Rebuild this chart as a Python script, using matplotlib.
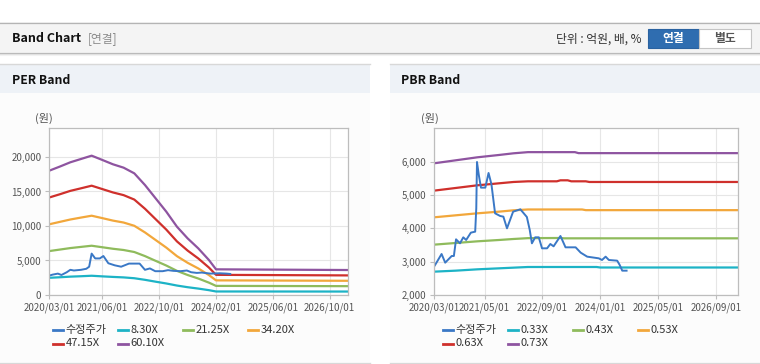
import matplotlib.pyplot as plt
from matplotlib.patches import Rectangle
from matplotlib.lines import Line2D
from matplotlib.ticker import FuncFormatter

plt.rcParams['font.family'] = ['Noto Sans CJK KR', 'DejaVu Sans']

W, H = 760, 364

# ---- PER band data (x = months since 2020/03) ----
per_band_months = [0, 3, 6, 9, 12, 15, 18, 21, 24, 27, 30, 33, 36, 39, 42, 45, 47, 84]
per_830 = [2490, 2570, 2660, 2720, 2790, 2700, 2620, 2550, 2430, 2200, 1930, 1670, 1370, 1130, 930, 700, 510, 500]
per_2125 = [6360, 6580, 6800, 6970, 7140, 6920, 6700, 6520, 6230, 5640, 4950, 4270, 3500, 2900, 2390, 1790, 1320, 1280]
per_3420 = [10240, 10590, 10940, 11220, 11490, 11140, 10780, 10500, 10030, 9070, 7970, 6870, 5630, 4670, 3850, 2890, 2120, 2060]
per_4715 = [14120, 14590, 15090, 15460, 15840, 15350, 14860, 14470, 13830, 12500, 10990, 9480, 7770, 6440, 5300, 3980, 2920, 2840]
per_6010 = [18000, 18600, 19230, 19710, 20190, 19570, 18940, 18450, 17630, 15940, 14010, 12080, 9900, 8210, 6760, 5070, 3720, 3620]

per_price_months = [0, 1, 2.5, 3.5, 5, 6, 7, 9, 10.5, 11.3, 12, 13, 14.3, 15.3, 16.7, 18.5, 20.3,
                    22.5, 25.5, 27, 28.4, 29.9, 32, 33.5, 35, 37, 38.8, 40, 41.6, 43, 45.4, 48, 50, 51]
per_price = [2800, 2950, 3100, 2900, 3300, 3650, 3550, 3650, 3800, 4100, 6000, 5300, 5300, 5650, 4600, 4300, 4100,
             4550, 4550, 3650, 3850, 3450, 3450, 3600, 3500, 3450, 3550, 3300, 3200, 3250, 3100, 3150, 3100, 3050]

per_tick_months = [0, 15, 31, 47, 63, 79]
per_tick_labels = ['2020/03/01', '2021/06/01', '2022/10/01', '2024/02/01', '2025/06/01', '2026/10/01']
per_yticks = [0, 5000, 10000, 15000, 20000]
per_labels = ['수정주가', '8.30X', '21.25X', '34.20X', '47.15X', '60.10X']

# ---- PBR band data ----
pbr_033_months = [0, 6, 12, 18, 22, 26, 45, 46, 84]
pbr_033 = [2700, 2730, 2770, 2800, 2820, 2840, 2840, 2825, 2825]
pbr_043_months = [0, 6, 12, 18, 22, 26, 35, 36, 84]
pbr_043 = [3510, 3560, 3610, 3650, 3680, 3705, 3710, 3700, 3700]
pbr_053_months = [0, 6, 12, 18, 22, 26, 41, 42, 84]
pbr_053 = [4330, 4390, 4450, 4500, 4540, 4565, 4565, 4545, 4545]
pbr_063_months = [0, 6, 12, 18, 22, 26, 34, 35, 37, 38, 42, 43, 84]
pbr_063 = [5130, 5210, 5290, 5350, 5390, 5410, 5410, 5440, 5440, 5410, 5410, 5390, 5390]
pbr_073_months = [0, 6, 12, 18, 22, 26, 39, 40, 84]
pbr_073 = [5950, 6040, 6130, 6200, 6250, 6285, 6285, 6255, 6255]

pbr_price_months = [0, 0.3, 2.1, 3.1, 4.9, 5.5, 6.1, 7.2, 8.1, 8.9, 10.2, 11.4, 11.7, 11.9, 12.4, 13, 14.2,
                    15.1, 15.9, 16.9, 18.3, 19.2, 20.2, 21.9, 23.9, 25.7, 26.5, 27.1, 28, 29, 29.9, 31.3,
                    32.2, 33.1, 35, 36.4, 39.2, 40.6, 42.4, 45.6, 46.5, 47.5, 48.4, 50.7, 51.4, 52.1, 53.3]
pbr_price = [2850, 2900, 3230, 2970, 3170, 3170, 3670, 3550, 3730, 3650, 3870, 3900, 4600, 5990, 5600, 5220, 5220,
             5660, 5320, 4450, 4370, 4350, 4000, 4500, 4570, 4340, 3950, 3550, 3730, 3730, 3400, 3400,
             3530, 3460, 3770, 3430, 3430, 3270, 3150, 3100, 3050, 3150, 3050, 3030, 2900, 2730, 2730]

pbr_tick_months = [0, 14, 30, 46, 62, 78]
pbr_tick_labels = ['2020/03/01', '2021/05/01', '2022/09/01', '2024/01/01', '2025/05/01', '2026/09/01']
pbr_yticks = [2000, 3000, 4000, 5000, 6000]
pbr_labels = ['수정주가', '0.33X', '0.43X', '0.53X', '0.63X', '0.73X']

colors = ['#3a78c6', '#1db3c6', '#8fbb5c', '#f2a73b', '#cf302c', '#8e54a0']


def fx(px):
    return px / W


def fy(py):
    return 1 - py / H


def rect(fig, x0, y0, x1, y1, **kw):
    fig.add_artist(Rectangle((fx(x0), fy(y1)), (x1 - x0) / W, (y1 - y0) / H,
                             transform=fig.transFigure, zorder=-5, **kw))


def hline(fig, x0, x1, y, color, lw=1.0, alpha=1.0):
    fig.add_artist(Line2D([fx(x0), fx(x1)], [fy(y), fy(y)], transform=fig.transFigure,
                          color=color, lw=lw, alpha=alpha, zorder=-4))


fig = plt.figure(figsize=(W / 100, H / 100), dpi=100)
fig.patch.set_facecolor('white')

# header bar
rect(fig, 0, 22, 760, 53, facecolor='#f4f4f4', edgecolor='none')
hline(fig, 0, 760, 22.5, '#b4b4b4', 0.9)
hline(fig, 0, 760, 53, '#bdbdbd', 0.9)
hline(fig, 0, 760, 54.2, '#000000', 0.9, 0.08)
hline(fig, 0, 760, 55.3, '#000000', 0.9, 0.04)
fig.text(fx(12), fy(38.5), 'Band Chart', fontsize=9, fontweight='bold', color='#111111', va='center')
fig.text(fx(88), fy(38.5), '[연결]', fontsize=8.5, color='#8a8a8a', va='center')
fig.text(fx(641), fy(39), '단위 : 억원, 배, %', fontsize=8.5, color='#333333', va='center', ha='right')
rect(fig, 648, 29, 699, 47.5, facecolor='#2f6db0', edgecolor='#2a62a0', lw=0.8)
rect(fig, 699, 29, 750.5, 47.5, facecolor='white', edgecolor='#c4c4c4', lw=0.8)
fig.text(fx(673.5), fy(38.5), '연결', fontsize=8.5, fontweight='bold', color='white', va='center', ha='center')
fig.text(fx(724.5), fy(38.5), '별도', fontsize=8.5, fontweight='bold', color='#555555', va='center', ha='center')

# panels
panels = [(0, 370, 'PER Band', 12), (390, 760, 'PBR Band', 401)]
for x0, x1, title, tx in panels:
    rect(fig, x0, 64, x1, 93, facecolor='#eef2f7', edgecolor='none')
    rect(fig, x0, 93, x1, 362, facecolor='#fcfcfc', edgecolor='none')
    hline(fig, x0, x1, 64, '#d8d8d8', 1.0)
    hline(fig, x0, x1, 362.5, '#d8d8d8', 1.0)
    fig.text(fx(tx), fy(80), title, fontsize=8.8, fontweight='bold', color='#111111', va='center')


def style_axes(ax, ticks, labels, yticks, ylim):
    ax.set_zorder(5)
    ax.set_facecolor('white')
    ax.set_xlim(0, 84)
    ax.set_ylim(*ylim)
    ax.set_xticks(ticks)
    ax.set_xticklabels(labels)
    ax.set_yticks(yticks)
    ax.yaxis.set_major_formatter(FuncFormatter(lambda v, p: f'{int(v):,}'))
    ax.grid(True, color='#e6e6e6', lw=0.8)
    ax.set_axisbelow(True)
    for s in ax.spines.values():
        s.set_color('#bdbdbd')
        s.set_linewidth(0.9)
    ax.tick_params(labelsize=7, labelcolor='#555555', length=3, color='#bdbdbd', pad=2.5)


def legend(fig, x_start, labels):
    for i, (lab, c) in enumerate(zip(labels, colors)):
        row, col = divmod(i, 4)
        x = x_start + col * 65
        y = 330 + row * 13.5
        fig.add_artist(Line2D([fx(x), fx(x + 10)], [fy(y), fy(y)], transform=fig.transFigure,
                              color=c, lw=2))
        fig.text(fx(x + 12.5), fy(y), lab, fontsize=8, color='#333333', va='center')


# PER chart
ax1 = fig.add_axes([fx(49), fy(295), (347.5 - 49) / W, (295 - 128) / H])
ax1.plot(per_band_months, per_830, color=colors[1], lw=1.6)
ax1.plot(per_band_months, per_2125, color=colors[2], lw=1.6)
ax1.plot(per_band_months, per_3420, color=colors[3], lw=1.6)
ax1.plot(per_band_months, per_4715, color=colors[4], lw=1.6)
ax1.plot(per_band_months, per_6010, color=colors[5], lw=1.6)
ax1.plot(per_price_months, per_price, color=colors[0], lw=1.4)
style_axes(ax1, per_tick_months, per_tick_labels, per_yticks, (0, 24200))
fig.text(fx(44), fy(118), '(원)', fontsize=8, color='#555555', va='center', ha='center')
legend(fig, 53, per_labels)

# PBR chart
ax2 = fig.add_axes([fx(434), fy(295), (737.5 - 434) / W, (295 - 128.3) / H])
ax2.plot(pbr_033_months, pbr_033, color=colors[1], lw=1.6)
ax2.plot(pbr_043_months, pbr_043, color=colors[2], lw=1.6)
ax2.plot(pbr_053_months, pbr_053, color=colors[3], lw=1.6)
ax2.plot(pbr_063_months, pbr_063, color=colors[4], lw=1.6)
ax2.plot(pbr_073_months, pbr_073, color=colors[5], lw=1.6)
ax2.plot(pbr_price_months, pbr_price, color=colors[0], lw=1.4)
style_axes(ax2, pbr_tick_months, pbr_tick_labels, pbr_yticks, (2000, 7000))
fig.text(fx(429.5), fy(118), '(원)', fontsize=8, color='#555555', va='center', ha='center')
legend(fig, 442.7, pbr_labels)

fig.savefig('out.png', dpi=100, facecolor=fig.get_facecolor())
